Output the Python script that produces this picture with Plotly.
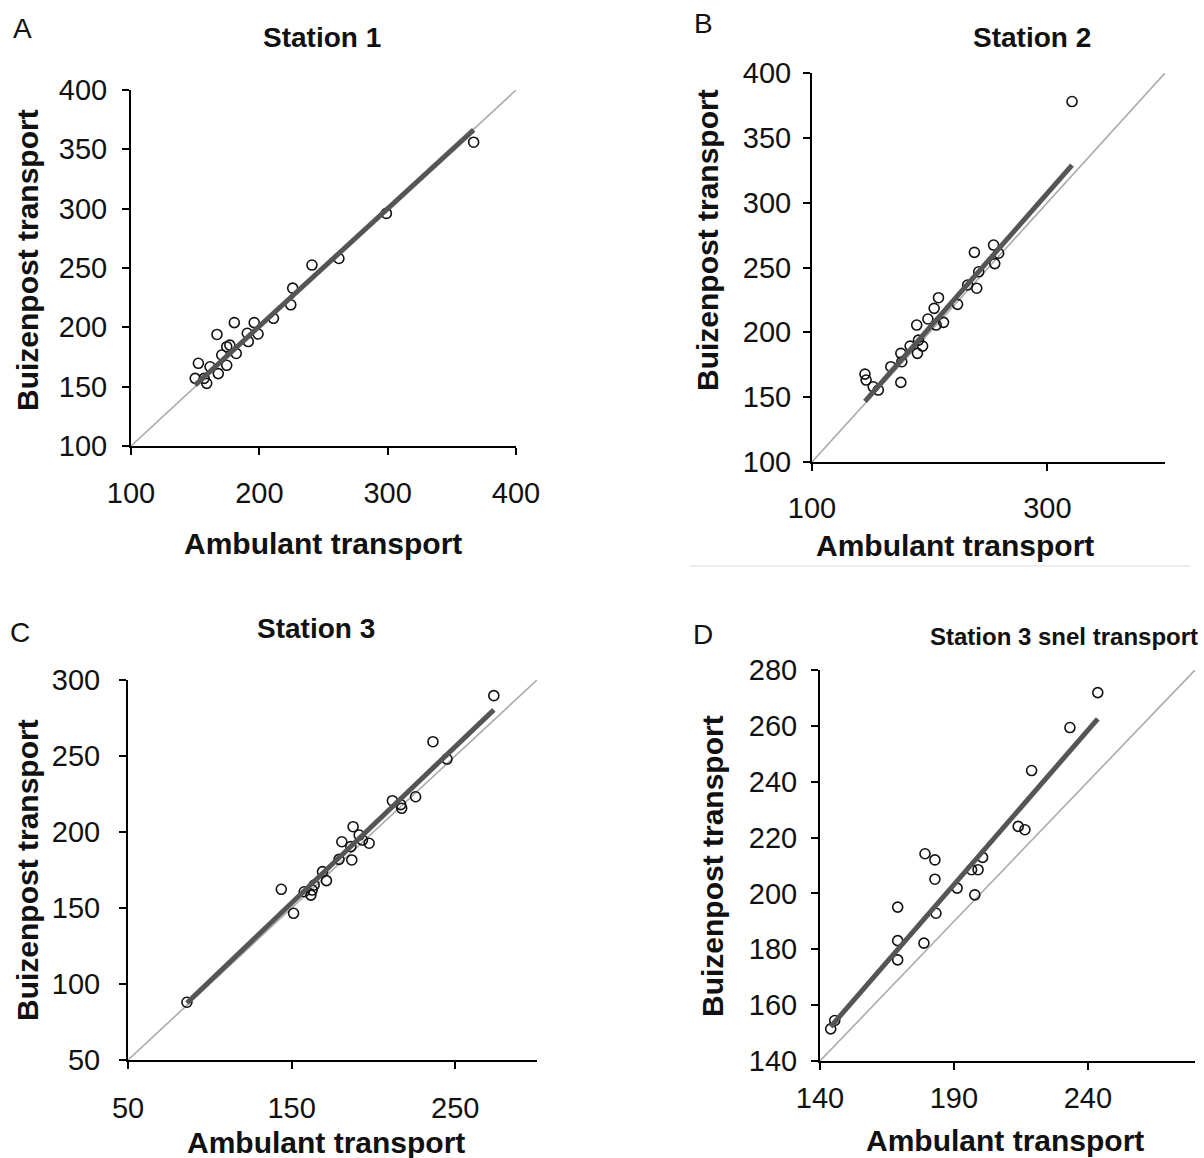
import numpy as np
import plotly.graph_objects as go

W, H = 1204, 1158

# ---- data ----
st1_x = [367, 299, 262, 241, 226, 224.5, 211, 196, 180.5, 167, 190.6, 199, 191.4, 177, 174.6, 182, 170.7, 174.6, 152.5, 161.6, 168, 150, 159, 157]
st1_y = [356, 296, 258, 252.5, 233, 219, 207.6, 204, 204, 194, 195, 194.4, 188, 185, 183.7, 178, 176.7, 168, 169.7, 166.8, 161, 157, 152.8, 157]

st2_x = [321, 238, 254.3, 258.6, 255.3, 241.7, 232.3, 240, 223.7, 207.5, 203.8, 211.8, 205.5, 198.5, 189, 194, 189.6, 183.4, 175.5, 176.3, 167, 175.5, 145, 146, 152, 156.4, 190.5]
st2_y = [378, 261.7, 267.3, 261, 253, 246.7, 236.5, 234, 221.6, 226.7, 218.5, 207.7, 205.6, 210.3, 205.6, 189.4, 183.8, 189.4, 183.8, 177.3, 173.5, 161.4, 167.8, 163.2, 158, 155.5, 194]

st3_x = [86, 273.6, 236.4, 245, 211.6, 217.3, 225.8, 216.7, 187.6, 191.3, 180.7, 197.4, 186.2, 179, 186.8, 168.9, 171.3, 163.8, 157.7, 161.8, 143.7, 151.2, 193.3, 162.6]
st3_y = [88, 289.7, 259.4, 248, 220.6, 215.6, 223.2, 218, 203.5, 198, 193.6, 192.6, 190.4, 182, 181.6, 173.9, 168, 165.1, 160.7, 158.5, 162.3, 146.5, 194.7, 161.8]

st3s_x = [243.7, 233.3, 219, 214, 216.5, 200.7, 196.6, 199, 197.8, 191.2, 179.2, 182.9, 182.9, 183.3, 169, 169, 169, 178.8, 144, 145.5]
st3s_y = [271.9, 259.4, 244, 224, 222.8, 212.9, 208.5, 208.5, 199.5, 201.9, 214.2, 212, 205.1, 192.9, 195.1, 183.1, 176.2, 182.2, 151.5, 154.5]

# trend lines (slope, intercept)
fit_slope = [0.991, 1.035, 1.028, 1.106]
fit_intercept = [2.7, -3.3, -0.9, -7.0]

panel_titles = ["Station 1", "Station 2", "Station 3", "Station 3 snel transport"]
panel_letters = ["A", "B", "C", "D"]
x_ranges = [[100, 400], [100, 400], [50, 300], [140, 280]]
y_ranges = [[100, 400], [100, 400], [50, 300], [140, 280]]
x_dticks = [100, 200, 100, 50]
y_dticks = [50, 50, 50, 20]
xlabel = "Ambulant transport"
ylabel = "Buizenpost transport"

# ---- layout geometry (pixels) ----
boxes = [  # left, right, top, bottom
    (131, 516, 90, 446),
    (812, 1165, 73, 462),
    (128, 537, 680, 1060),
    (820, 1195, 670, 1061),
]
xlab_standoff = [13, 12, 14, 3]
ylab_standoff = [9, 6, 13, 8]

FONT = "Liberation Sans, Arial, sans-serif"
TICK = 29
fig = go.Figure()
data = [(st1_x, st1_y), (st2_x, st2_y), (st3_x, st3_y), (st3s_x, st3s_y)]

for i, (xs, ys) in enumerate(data):
    xa = "x" if i == 0 else f"x{i+1}"
    ya = "y" if i == 0 else f"y{i+1}"
    lo, hi = x_ranges[i]
    # identity line
    fig.add_trace(go.Scatter(x=[lo, hi], y=[lo, hi], mode="lines",
                             line=dict(color="#ababab", width=1.6),
                             xaxis=xa, yaxis=ya, showlegend=False, hoverinfo="skip"))
    # points
    fig.add_trace(go.Scatter(x=xs, y=ys, mode="markers",
                             marker=dict(symbol="circle-open", size=10, color="#111",
                                         line=dict(width=1.6, color="#111")),
                             xaxis=xa, yaxis=ya, showlegend=False))
    # trend line over the data's x extent
    fx = np.array([min(xs), max(xs)], float)
    fig.add_trace(go.Scatter(x=fx, y=fit_slope[i] * fx + fit_intercept[i], mode="lines",
                             line=dict(color="#555555", width=5),
                             xaxis=xa, yaxis=ya, showlegend=False, hoverinfo="skip"))

layout = dict(template="none", width=W, height=H, margin=dict(l=0, r=0, t=0, b=0),
              paper_bgcolor="white", plot_bgcolor="white",
              font=dict(family=FONT, color="#111"), showlegend=False)

annotations = []
for i, (l, r, t, b) in enumerate(boxes):
    kx = "xaxis" if i == 0 else f"xaxis{i+1}"
    ky = "yaxis" if i == 0 else f"yaxis{i+1}"
    ya = "y" if i == 0 else f"y{i+1}"
    xa = "x" if i == 0 else f"x{i+1}"
    common = dict(showline=True, linecolor="black", linewidth=2, ticks="outside",
                  ticklen=7, tickwidth=2, tickcolor="black", showgrid=False,
                  zeroline=False, automargin=False,
                  tickfont=dict(size=TICK, family=FONT, color="#111"),
                  fixedrange=True)
    layout[kx] = dict(common, domain=[l / W, r / W], range=x_ranges[i],
                      tick0=x_ranges[i][0], dtick=x_dticks[i], anchor=ya,
                      ticklabelstandoff=xlab_standoff[i])
    layout[ky] = dict(common, domain=[1 - b / H, 1 - t / H], range=y_ranges[i],
                      tick0=y_ranges[i][0], dtick=y_dticks[i], anchor=xa,
                      ticklabelstandoff=ylab_standoff[i])

# text annotations (pixel positions)
def ann(text, x, y, size, bold=False, angle=0, xanchor="center"):
    annotations.append(dict(text=f"<b>{text}</b>" if bold else text,
                            x=x / W, y=1 - y / H, xref="paper", yref="paper",
                            showarrow=False, textangle=angle, xanchor=xanchor,
                            yanchor="middle", font=dict(size=size, family=FONT, color="#111")))

letter_pos = [(22, 28), (703, 24), (20, 632), (703, 634)]
title_pos = [(322, 37), (1032, 37), (316, 628), (1200, 636)]
xtitle_pos = [(323, 543), (955, 545), (326, 1142), (1005, 1140)]
ytitle_pos = [(27, 260), (708, 240), (27, 870), (712, 866)]

for i in range(4):
    ann(panel_letters[i], *letter_pos[i], 28)
    if i == 3:
        ann(panel_titles[i], *title_pos[i], 24, bold=True, xanchor="right")
    else:
        ann(panel_titles[i], *title_pos[i], 28, bold=True)
    ann(xlabel, *xtitle_pos[i], 30, bold=True)
    ann(ylabel, *ytitle_pos[i], 30, bold=True, angle=-90)

layout["annotations"] = annotations
layout["shapes"] = [dict(type="line", xref="paper", yref="paper",
                         x0=690 / W, x1=1190 / W, y0=1 - 566 / H, y1=1 - 566 / H,
                         line=dict(color="#d9d9d9", width=1.2))]
fig.update_layout(**layout)
fig.write_html("out.html", config={"displayModeBar": False},
               post_script="document.body.style.margin='0';document.body.style.overflow='hidden';")
